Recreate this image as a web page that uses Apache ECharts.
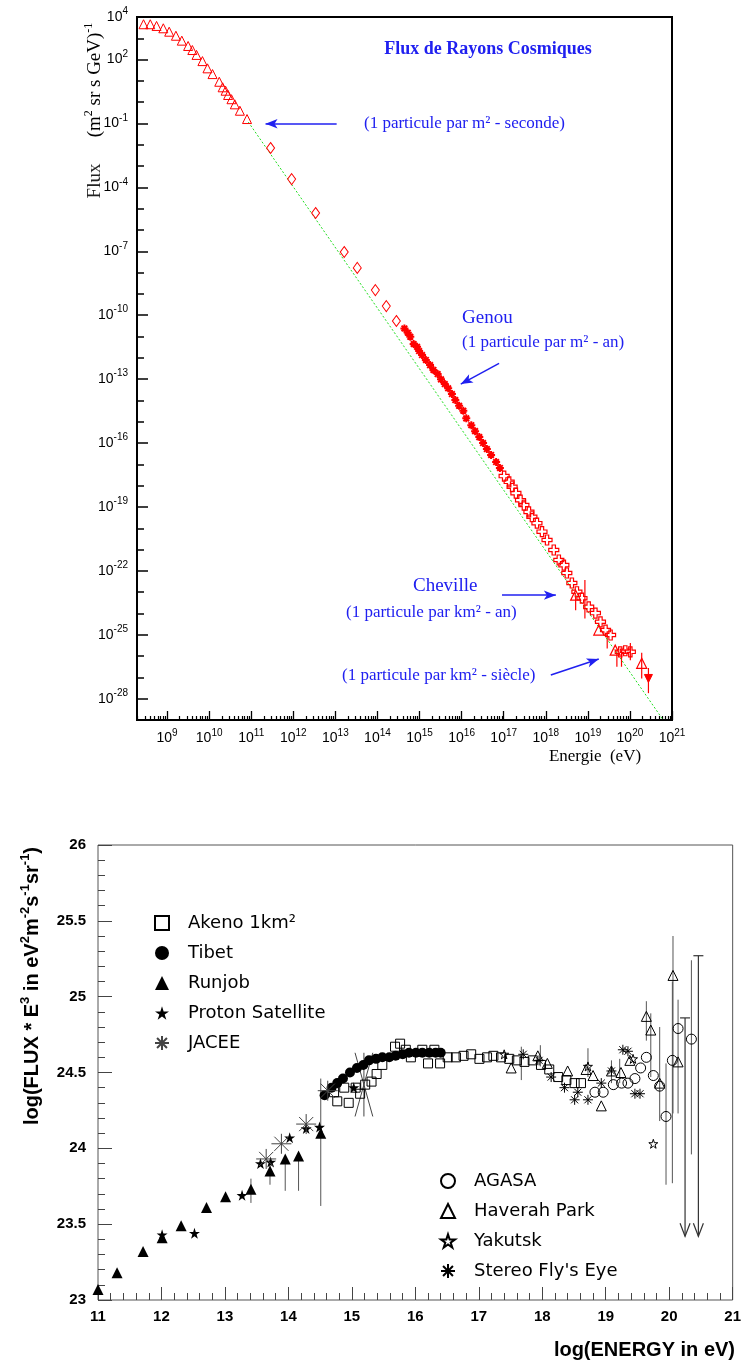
<!DOCTYPE html>
<html>
<head>
<meta charset="utf-8">
<script src="https://cdn.jsdelivr.net/npm/echarts@6/dist/echarts.min.js"></script>
<style>
  html, body { margin: 0; padding: 0; background: #fff; }
  #chart { width: 744px; height: 1367px; }
</style>
</head>
<body>
<div id="chart"></div>
<script>
// ===== Upper panel: cosmic-ray flux, [log10 E (eV), log10 flux (m^-2 sr^-1 s^-1 GeV^-1)] =====
const fluxTriangles = [
  [8.44, 3.66], [8.60, 3.66], [8.75, 3.58], [8.91, 3.47], [9.05, 3.31], [9.21, 3.12],
  [9.35, 2.89], [9.50, 2.64], [9.60, 2.45], [9.70, 2.22], [9.84, 1.93], [9.96, 1.59],
  [10.08, 1.32], [10.24, 0.96], [10.32, 0.70], [10.39, 0.54], [10.45, 0.34], [10.53, 0.14],
  [10.61, -0.10], [10.73, -0.40], [10.90, -0.79]
];
const fluxDiamonds = [
  [11.46, -2.15], [11.96, -3.61], [12.53, -5.20], [13.21, -7.03], [13.52, -7.78],
  [13.95, -8.82], [14.21, -9.57], [14.45, -10.27]
];
const fluxAsterisks = [
  [14.64, -10.62], [14.72, -10.82], [14.78, -11.01], [14.86, -11.35], [14.94, -11.48],
  [14.99, -11.68], [15.06, -11.87], [15.15, -12.10], [15.25, -12.34], [15.33, -12.57],
  [15.43, -12.76], [15.51, -13.01], [15.60, -13.23], [15.68, -13.43], [15.77, -13.70],
  [15.85, -13.98], [15.94, -14.25], [16.04, -14.48], [16.11, -14.84], [16.23, -15.16],
  [16.32, -15.44], [16.42, -15.72], [16.51, -16.00], [16.60, -16.28], [16.70, -16.56],
  [16.82, -16.89], [16.91, -17.17]
];
const fluxCrosses = [
  [17.01, -17.55], [17.13, -17.82], [17.20, -18.05], [17.29, -18.35], [17.40, -18.68],
  [17.48, -18.91], [17.60, -19.23], [17.67, -19.46], [17.79, -19.76], [17.91, -20.16],
  [18.03, -20.55], [18.19, -21.02], [18.31, -21.49], [18.43, -21.73], [18.50, -22.10],
  [18.62, -22.57], [18.74, -22.98], [18.86, -23.28], [19.02, -23.69], [19.18, -23.98],
  [19.30, -24.39], [19.42, -24.78], [19.54, -25.01], [19.77, -25.80], [19.89, -25.75],
  [20.01, -25.80]
];
const fluxHighTriangles = [[18.71, -23.14], [19.26, -24.78], [19.65, -25.72], [20.28, -26.34]];
const fluxUpperLimit = [[20.44, -27.05]];
// [log10 E, low, high]
const fluxErrors = [
  [18.71, -23.85, -23.22], [18.93, -24.23, -22.43], [19.46, -25.64, -25.00],
  [19.69, -26.50, -25.72], [19.80, -26.50, -25.72], [20.01, -26.19, -25.39],
  [20.28, -27.05, -25.84], [20.44, -27.74, -26.56]
];
// reference power law (end points)
const powerLaw = [[10.93, -0.93], [20.79, -29.0]];
const fluxXLabels = [9, 10, 11, 12, 13, 14, 15, 16, 17, 18, 19, 20, 21];
const fluxYLabels = [-28, -25, -22, -19, -16, -13, -10, -7, -4, -1, 2, 4];

// ===== Lower panel: log(E^3 * flux) vs log E =====
const akeno = [
  [14.72, 24.37], [14.77, 24.31], [14.95, 24.30], [14.88, 24.40], [15.06, 24.40], [15.13, 24.36],
  [15.21, 24.42], [15.31, 24.44], [15.39, 24.49], [15.48, 24.55], [15.68, 24.67], [15.76, 24.69],
  [15.85, 24.65], [15.93, 24.60], [16.11, 24.65], [16.20, 24.56], [16.30, 24.65], [16.39, 24.56],
  [16.51, 24.60], [16.64, 24.60], [16.76, 24.61], [16.88, 24.62], [17.01, 24.59], [17.13, 24.60],
  [17.23, 24.61], [17.35, 24.60], [17.48, 24.59], [17.60, 24.58], [17.72, 24.57], [17.85, 24.58],
  [17.98, 24.55], [18.11, 24.52], [18.25, 24.47], [18.38, 24.45], [18.51, 24.43], [18.61, 24.43]
];
const tibet = [
  [14.57, 24.35], [14.68, 24.40], [14.77, 24.43], [14.86, 24.46], [14.97, 24.50], [15.08, 24.53],
  [15.18, 24.55], [15.27, 24.58], [15.38, 24.59], [15.48, 24.60], [15.59, 24.60], [15.69, 24.61],
  [15.80, 24.62], [15.90, 24.63], [16.01, 24.63], [16.11, 24.63], [16.22, 24.63], [16.32, 24.63],
  [16.40, 24.63]
];
const runjob = [
  [11.00, 23.07], [11.30, 23.18], [11.71, 23.32], [12.01, 23.41], [12.31, 23.49], [12.71, 23.61],
  [13.01, 23.68], [13.41, 23.73], [13.71, 23.85], [13.95, 23.93], [14.16, 23.95], [14.51, 24.10]
];
const protonSatellite = [
  [12.01, 23.43], [12.52, 23.44], [13.27, 23.69], [13.56, 23.90], [13.72, 23.91],
  [14.02, 24.07], [14.28, 24.13], [14.49, 24.14], [15.03, 24.40]
];
const jacee = [[13.65, 23.93], [13.89, 24.03], [14.28, 24.16], [14.62, 24.38]];
// [log10 E, value, half-width in log E, half-height]
const jaceeWide = [[15.19, 24.42, 0.14, 0.21]];
const agasa = [
  [18.83, 24.37], [18.96, 24.37], [19.12, 24.42], [19.25, 24.43], [19.35, 24.43], [19.46, 24.46],
  [19.55, 24.53], [19.64, 24.60], [19.75, 24.48], [19.85, 24.41], [19.95, 24.21], [20.05, 24.58],
  [20.14, 24.79], [20.35, 24.72]
];
const haverahPark = [
  [17.51, 24.53], [17.93, 24.61], [18.08, 24.56], [18.40, 24.51], [18.69, 24.52], [18.80, 24.48],
  [18.93, 24.28], [19.09, 24.51], [19.24, 24.50], [19.38, 24.58], [19.64, 24.87], [19.71, 24.78],
  [19.85, 24.43], [20.06, 25.14], [20.14, 24.57]
];
const yakutsk = [[17.40, 24.62], [18.72, 24.54], [19.43, 24.59], [19.75, 24.03]];
const flysEye = [
  [17.70, 24.62], [17.95, 24.58], [18.14, 24.47], [18.35, 24.40], [18.51, 24.32], [18.56, 24.37],
  [18.72, 24.32], [18.93, 24.43], [19.09, 24.51], [19.27, 24.65], [19.35, 24.64], [19.46, 24.36],
  [19.54, 24.36]
];
// [log10 E, low, high]
const e3Errors = [
  [13.41, 23.64, 23.80], [13.71, 23.76, 23.92], [13.95, 23.72, 23.93], [14.16, 23.72, 23.95],
  [14.51, 23.62, 24.46], [17.67, 24.45, 24.67], [17.97, 24.54, 24.68], [18.72, 24.47, 24.66],
  [19.09, 24.43, 24.58], [19.22, 24.43, 24.59], [19.64, 24.71, 24.97], [19.71, 24.47, 24.89],
  [19.85, 24.18, 24.80], [19.95, 23.76, 24.56], [20.05, 23.77, 25.10], [20.06, 24.23, 25.40],
  [20.14, 24.23, 24.98], [20.35, 23.96, 25.24]
];
// [log10 E, cap, arrow tip]
const e3UpperLimits = [[20.25, 24.86, 23.42], [20.46, 25.27, 23.42]];

// ===== drawing =====
const SERIF = '"Liberation Serif", "Times New Roman", serif';
const SANS = '"Liberation Sans", Arial, sans-serif';
const RED = '#ff0000';
const BLUE = '#2020f0';
const OPEN = 'rgba(0,0,0,0)';

const STAR = 'path://M0,-10L2.245,-3.09L9.511,-3.09L3.633,1.18L5.878,8.09L0,3.82L-5.878,8.09L-3.633,1.18L-9.511,-3.09L-2.245,-3.09Z';
const ASTER = 'path://M0,-10L0,10M-10,0L10,0M-7.07,-7.07L7.07,7.07M-7.07,7.07L7.07,-7.07';
const PLUS = 'path://M-1,-3L1,-3L1,-1L3,-1L3,1L1,1L1,3L-1,3L-1,1L-3,1L-3,-1L-1,-1Z';

const logMinorX = [];
for (let n = 8; n <= 20; n++) {
  for (let k = 2; k <= 9; k++) {
    const v = n + Math.log10(k);
    if (v > 8.285 && v < 21) logMinorX.push(+v.toFixed(4));
  }
}
const decadesY = [];
for (let n = -29; n <= 4; n++) decadesY.push(n);

const pow10 = v => '{b|10}{e|' + v + '}';
const powRich = {
  b: { fontSize: 14, fontFamily: SANS, color: '#000' },
  e: { fontSize: 10, fontFamily: SANS, color: '#000', padding: [0, 0, 11, 0] }
};

function errorBars(data, xi, yi, color, width) {
  return {
    type: 'custom', xAxisIndex: xi, yAxisIndex: yi, data, silent: true, z: 1,
    encode: { x: 0, y: [1, 2] },
    renderItem: (params, api) => {
      const a = api.coord([api.value(0), api.value(1)]);
      const b = api.coord([api.value(0), api.value(2)]);
      return { type: 'line', shape: { x1: a[0], y1: a[1], x2: b[0], y2: b[1] },
               style: { stroke: color, lineWidth: width } };
    }
  };
}

function scatter(name, data, xi, yi, symbol, size, fill, stroke, lw, extra) {
  return Object.assign({
    name, type: 'scatter', xAxisIndex: xi, yAxisIndex: yi, data, symbol, symbolSize: size,
    itemStyle: { color: fill, borderColor: stroke, borderWidth: lw, opacity: 1 },
    emphasis: { disabled: true }, silent: true, z: 3
  }, extra || {});
}

const noLine = { show: false, onZero: false };
const legendText = { fontFamily: '"DejaVu Sans", sans-serif', fontSize: 18, lineHeight: 20, color: '#000', padding: [0, 0, 0, 14] };

const chart = echarts.init(document.getElementById('chart'), null, { renderer: 'canvas' });

chart.setOption({
  animation: false,
  backgroundColor: '#fff',
  textStyle: { fontFamily: SANS },
  grid: [
    { left: 137, top: 17, width: 535, height: 703, show: true, borderColor: '#000', borderWidth: 2, backgroundColor: OPEN },
    { left: 98, top: 845, width: 636, height: 455, show: true, borderColor: '#555', borderWidth: 1, backgroundColor: OPEN }
  ],
  xAxis: [
    { gridIndex: 0, type: 'value', min: 8.285, max: 21, position: 'bottom', axisLine: noLine, splitLine: { show: false },
      axisTick: { inside: true, length: 9, customValues: fluxXLabels, lineStyle: { color: '#000', width: 1.3 } },
      axisLabel: { customValues: fluxXLabels, formatter: pow10, rich: powRich, margin: 8 } },
    { gridIndex: 0, type: 'value', min: 8.285, max: 21, position: 'bottom', axisLine: noLine,
      splitLine: { show: false }, axisLabel: { show: false },
      axisTick: { inside: true, length: 4, customValues: logMinorX, lineStyle: { color: '#000', width: 1.2 } } },
    { gridIndex: 1, type: 'value', min: 11, max: 21, interval: 1, position: 'bottom', axisLine: noLine, splitLine: { show: false },
      axisTick: { inside: true, length: 13, lineStyle: { color: '#444' } },
      minorTick: { show: true, splitNumber: 5, length: 7, lineStyle: { color: '#444' } },
      axisLabel: { fontSize: 15, fontWeight: 'bold', color: '#000', margin: 9, fontFamily: SANS } }
  ],
  yAxis: [
    { gridIndex: 0, type: 'value', min: -29, max: 4, position: 'left', axisLine: noLine, splitLine: { show: false },
      axisTick: { inside: true, length: 11, customValues: fluxYLabels, lineStyle: { color: '#000', width: 1.5 } },
      axisLabel: { customValues: fluxYLabels, formatter: pow10, rich: powRich, margin: 9 } },
    { gridIndex: 0, type: 'value', min: -29, max: 4, position: 'left', axisLine: noLine,
      splitLine: { show: false }, axisLabel: { show: false },
      axisTick: { inside: true, length: 7, customValues: decadesY, lineStyle: { color: '#000', width: 1.5 } } },
    { gridIndex: 1, type: 'value', min: 23, max: 26, interval: 0.5, position: 'left', axisLine: noLine, splitLine: { show: false },
      axisTick: { inside: true, length: 14, lineStyle: { color: '#444' } },
      minorTick: { show: true, splitNumber: 5, length: 7, lineStyle: { color: '#444' } },
      axisLabel: { fontSize: 15, fontWeight: 'bold', color: '#000', margin: 12, fontFamily: SANS } }
  ],
  legend: [
    { left: 154, top: 913, padding: 0, orient: 'vertical', itemWidth: 14, itemHeight: 14, itemGap: 10, selectedMode: false,
      textStyle: legendText,
      data: [
        { name: 'Akeno 1km²', icon: 'rect' },
        { name: 'Tibet', icon: 'circle' },
        { name: 'Runjob', icon: 'triangle' },
        { name: 'Proton Satellite', icon: STAR },
        { name: 'JACEE', icon: ASTER }
      ] },
    { left: 440, top: 1171, padding: 0, orient: 'vertical', itemWidth: 14, itemHeight: 14, itemGap: 10, selectedMode: false,
      textStyle: legendText,
      data: [
        { name: 'AGASA', icon: 'circle' },
        { name: 'Haverah Park', icon: 'triangle' },
        { name: 'Yakutsk', icon: STAR },
        { name: "Stereo Fly's Eye", icon: ASTER }
      ] }
  ],
  series: [
    // ---- upper panel ----
    { type: 'line', xAxisIndex: 0, yAxisIndex: 0, data: powerLaw, symbol: 'none', silent: true, z: 2,
      lineStyle: { color: '#22dd22', width: 1, type: [2, 2] },
      markLine: {
        silent: true, symbol: ['none', 'arrow'], symbolSize: [7, 12], label: { show: false },
        lineStyle: { color: BLUE, width: 1.5, type: 'solid' },
        data: [
          [{ coord: [13.03, -1.01] }, { coord: [11.34, -1.01] }],
          [{ coord: [16.89, -12.26] }, { coord: [15.98, -13.23] }],
          [{ coord: [16.96, -23.14] }, { coord: [18.24, -23.14] }],
          [{ coord: [18.12, -26.89] }, { coord: [19.26, -26.14] }]
        ]
      } },
    errorBars(fluxErrors, 0, 0, RED, 1.2),
    scatter('fluxTriangles', fluxTriangles, 0, 0, 'triangle', 9, OPEN, RED, 1),
    scatter('fluxDiamonds', fluxDiamonds, 0, 0, 'diamond', [8, 11], OPEN, RED, 1),
    scatter('fluxAsterisks', fluxAsterisks, 0, 0, ASTER, 8, RED, RED, 2),
    scatter('fluxCrosses', fluxCrosses, 0, 0, PLUS, 10, OPEN, RED, 1.2),
    scatter('fluxHighTriangles', fluxHighTriangles, 0, 0, 'triangle', 10, OPEN, RED, 1.2),
    scatter('fluxUpperLimit', fluxUpperLimit, 0, 0, 'triangle', 8, RED, RED, 1, { symbolRotate: 180 }),

    // ---- lower panel ----
    errorBars(e3Errors, 2, 2, '#555', 1),
    { type: 'custom', xAxisIndex: 2, yAxisIndex: 2, data: e3UpperLimits, silent: true, z: 1,
      encode: { x: 0, y: [1, 2] },
      renderItem: (params, api) => {
        const top = api.coord([api.value(0), api.value(1)]);
        const tip = api.coord([api.value(0), api.value(2)]);
        const st = { stroke: '#333', lineWidth: 1.2, fill: null };
        return { type: 'group', children: [
          { type: 'line', shape: { x1: top[0], y1: top[1], x2: tip[0], y2: tip[1] }, style: st },
          { type: 'line', shape: { x1: top[0] - 5, y1: top[1], x2: top[0] + 5, y2: top[1] }, style: st },
          { type: 'polyline', shape: { points: [[tip[0] - 5, tip[1] - 13], tip, [tip[0] + 5, tip[1] - 13]] }, style: st }
        ] };
      } },
    { type: 'custom', xAxisIndex: 2, yAxisIndex: 2, data: jaceeWide, silent: true, z: 2,
      encode: { x: 0, y: 1 },
      renderItem: (params, api) => {
        const x = api.value(0), y = api.value(1), dx = api.value(2), dy = api.value(3);
        const p = v => api.coord(v);
        const st = { stroke: '#444', lineWidth: 1 };
        const a = p([x - dx, y + dy]), b = p([x + dx, y - dy]);
        const c = p([x + dx, y + dy]), d = p([x - dx, y - dy]);
        const e = p([x, y + dy]), f = p([x, y - dy]);
        return { type: 'group', children: [
          { type: 'line', shape: { x1: a[0], y1: a[1], x2: b[0], y2: b[1] }, style: st },
          { type: 'line', shape: { x1: c[0], y1: c[1], x2: d[0], y2: d[1] }, style: st },
          { type: 'line', shape: { x1: e[0], y1: e[1], x2: f[0], y2: f[1] }, style: st }
        ] };
      } },
    scatter('Akeno 1km²', akeno, 2, 2, 'rect', 9, OPEN, '#000', 1),
    scatter('Tibet', tibet, 2, 2, 'circle', 10, '#000', '#000', 0),
    scatter('Runjob', runjob, 2, 2, 'triangle', 11, '#000', '#000', 0),
    scatter('Proton Satellite', protonSatellite, 2, 2, STAR, 11, '#000', '#000', 0),
    scatter('JACEE', jacee, 2, 2, ASTER, 20, OPEN, '#444', 1),
    scatter('AGASA', agasa, 2, 2, 'circle', 10, OPEN, '#000', 1),
    scatter('Haverah Park', haverahPark, 2, 2, 'triangle', 10, OPEN, '#000', 1),
    scatter('Yakutsk', yakutsk, 2, 2, STAR, 9, OPEN, '#000', 1),
    scatter("Stereo Fly's Eye", flysEye, 2, 2, ASTER, 10, OPEN, '#000', 1)
  ],
  graphic: [
    // upper panel titles and notes
    { type: 'text', x: 488, y: 49, silent: true,
      style: { text: 'Flux de Rayons Cosmiques', font: 'bold 18px ' + SERIF, fill: BLUE, align: 'center', verticalAlign: 'middle' } },
    { type: 'text', x: 364, y: 124, silent: true,
      style: { text: '(1 particule par m² - seconde)', font: '17px ' + SERIF, fill: BLUE, align: 'left', verticalAlign: 'middle' } },
    { type: 'text', x: 462, y: 318, silent: true,
      style: { text: 'Genou', font: '19px ' + SERIF, fill: BLUE, align: 'left', verticalAlign: 'middle' } },
    { type: 'text', x: 462, y: 343, silent: true,
      style: { text: '(1 particule par m² - an)', font: '17px ' + SERIF, fill: BLUE, align: 'left', verticalAlign: 'middle' } },
    { type: 'text', x: 413, y: 586, silent: true,
      style: { text: 'Cheville', font: '19px ' + SERIF, fill: BLUE, align: 'left', verticalAlign: 'middle' } },
    { type: 'text', x: 346, y: 613, silent: true,
      style: { text: '(1 particule par km² - an)', font: '17px ' + SERIF, fill: BLUE, align: 'left', verticalAlign: 'middle' } },
    { type: 'text', x: 342, y: 676, silent: true,
      style: { text: '(1 particule par km² - siècle)', font: '17px ' + SERIF, fill: BLUE, align: 'left', verticalAlign: 'middle' } },
    { type: 'text', x: 595, y: 757, silent: true,
      style: { text: 'Energie  (eV)', font: '17px ' + SERIF, fill: '#000', align: 'center', verticalAlign: 'middle' } },
    { type: 'text', x: 95, y: 181, rotation: Math.PI / 2, silent: true,
      style: { text: 'Flux', font: '19px ' + SERIF, fill: '#222', align: 'center', verticalAlign: 'middle' } },
    { type: 'text', x: 95, y: 80, rotation: Math.PI / 2, silent: true,
      style: { text: '{t|(m}{s|2}{t| sr s GeV)}{s|-1}', align: 'center', verticalAlign: 'middle',
        rich: { t: { fontSize: 19, fontFamily: SERIF, color: '#222' },
                s: { fontSize: 12, fontFamily: SERIF, color: '#222', padding: [0, 0, 13, 0] } } } },
    // lower panel axis titles
    { type: 'text', x: 32, y: 986, rotation: Math.PI / 2, silent: true,
      style: { text: '{t|log(FLUX * E}{s|3}{t| in eV}{s|2}{t|m}{s|-2}{t|s}{s|-1}{t|sr}{s|-1}{t|)}', align: 'center', verticalAlign: 'middle',
        rich: { t: { fontSize: 20, fontWeight: 'bold', fontFamily: SANS, color: '#000' },
                s: { fontSize: 13, fontWeight: 'bold', fontFamily: SANS, color: '#000', padding: [0, 0, 13, 0] } } } },
    { type: 'text', x: 735, y: 1350, silent: true,
      style: { text: 'log(ENERGY in eV)', font: 'bold 20px ' + SANS, fill: '#000', align: 'right', verticalAlign: 'middle' } }
  ]
});
</script>
</body>
</html>
